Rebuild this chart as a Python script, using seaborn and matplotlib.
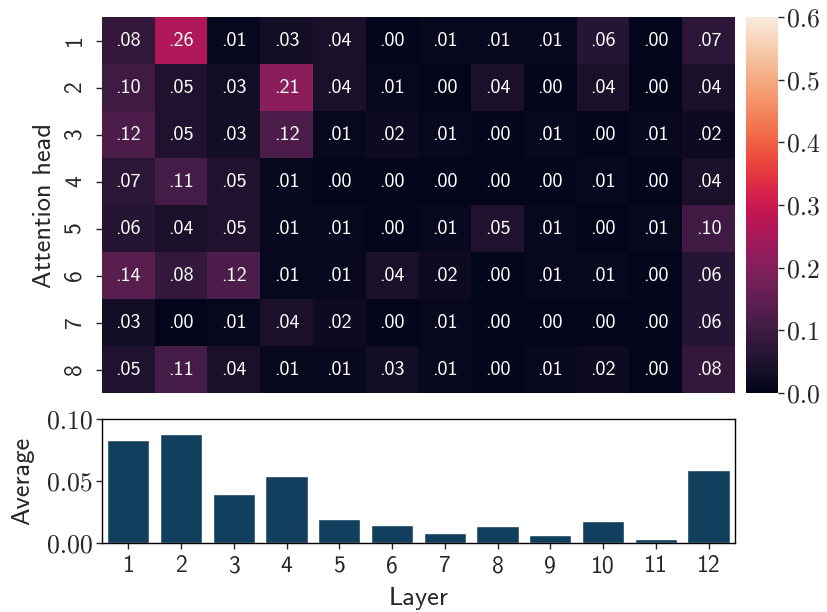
import numpy as np
import matplotlib
matplotlib.use("Agg")
import matplotlib.pyplot as plt
import seaborn as sns

# attention head importance per layer (rows = heads, cols = layers)
heads = [1, 2, 3, 4, 5, 6, 7, 8]
layers = [1, 2, 3, 4, 5, 6, 7, 8, 9, 10, 11, 12]
scores = np.array([
    [.08, .26, .01, .03, .04, .00, .01, .01, .01, .06, .00, .07],
    [.10, .05, .03, .21, .04, .01, .00, .04, .00, .04, .00, .04],
    [.12, .05, .03, .12, .01, .02, .01, .00, .01, .00, .01, .02],
    [.07, .11, .05, .01, .00, .00, .00, .00, .00, .01, .00, .04],
    [.06, .04, .05, .01, .01, .00, .01, .05, .01, .00, .01, .10],
    [.14, .08, .12, .01, .01, .04, .02, .00, .01, .01, .00, .06],
    [.03, .00, .01, .04, .02, .00, .01, .00, .00, .00, .00, .06],
    [.05, .11, .04, .01, .01, .03, .01, .00, .01, .02, .00, .08],
])
layer_avg = [0.083, 0.088, 0.040, 0.054, 0.0195, 0.015, 0.0083,
             0.014, 0.0067, 0.018, 0.0035, 0.059]

sns.set_style("ticks")
plt.rcParams["font.family"] = ["cmss10", "DejaVu Sans"]
plt.rcParams["axes.unicode_minus"] = False

fig = plt.figure(figsize=(8.27, 6.12), dpi=100)
ax_hm = fig.add_axes([0.1233, 0.3578, 0.7654, 0.6144])
ax_cb = fig.add_axes([0.902, 0.3578, 0.0387, 0.6144])
ax_bar = fig.add_axes([0.1233, 0.1120, 0.7654, 0.2034])

labels = np.array([[f"{v:.2f}".lstrip("0") for v in row] for row in scores])
sns.heatmap(scores, ax=ax_hm, cbar_ax=ax_cb, cmap="rocket", vmin=0, vmax=0.6,
            annot=labels, fmt="", annot_kws={"size": 14.5},
            xticklabels=False, yticklabels=heads)
ax_hm.set_ylabel("Attention head", fontsize=19, labelpad=6)
ax_hm.tick_params(axis="y", labelsize=17, rotation=90, length=4.5,
                  width=1, pad=7)
for t in ax_hm.get_yticklabels():
    t.set_va("center")

ax_cb.tick_params(labelsize=18.5, length=4.5, width=1, pad=2)
ax_cb.set_yticks([0, 0.1, 0.2, 0.3, 0.4, 0.5, 0.6])
ax_cb.set_yticklabels(["0.0", "0.1", "0.2", "0.3", "0.4", "0.5", "0.6"],
                      family="cmr10")

sns.barplot(x=layers, y=layer_avg, ax=ax_bar, color="#123f5d", saturation=1)
ax_bar.set_ylim(0, 0.1)
ax_bar.set_yticks([0, 0.05, 0.10])
ax_bar.set_yticklabels(["0.00", "0.05", "0.10"], family="cmr10")
ax_bar.tick_params(axis="y", labelsize=18.5, length=4.5, width=1, pad=2)
ax_bar.tick_params(axis="x", labelsize=17, length=4.5, width=1, pad=4)
ax_bar.set_xlabel("Layer", fontsize=19, labelpad=7)
ax_bar.set_ylabel("Average", fontsize=19, labelpad=9)
for s in ax_bar.spines.values():
    s.set_visible(True)
    s.set_color("black")
    s.set_linewidth(1)

fig.savefig("out.png", dpi=100)
